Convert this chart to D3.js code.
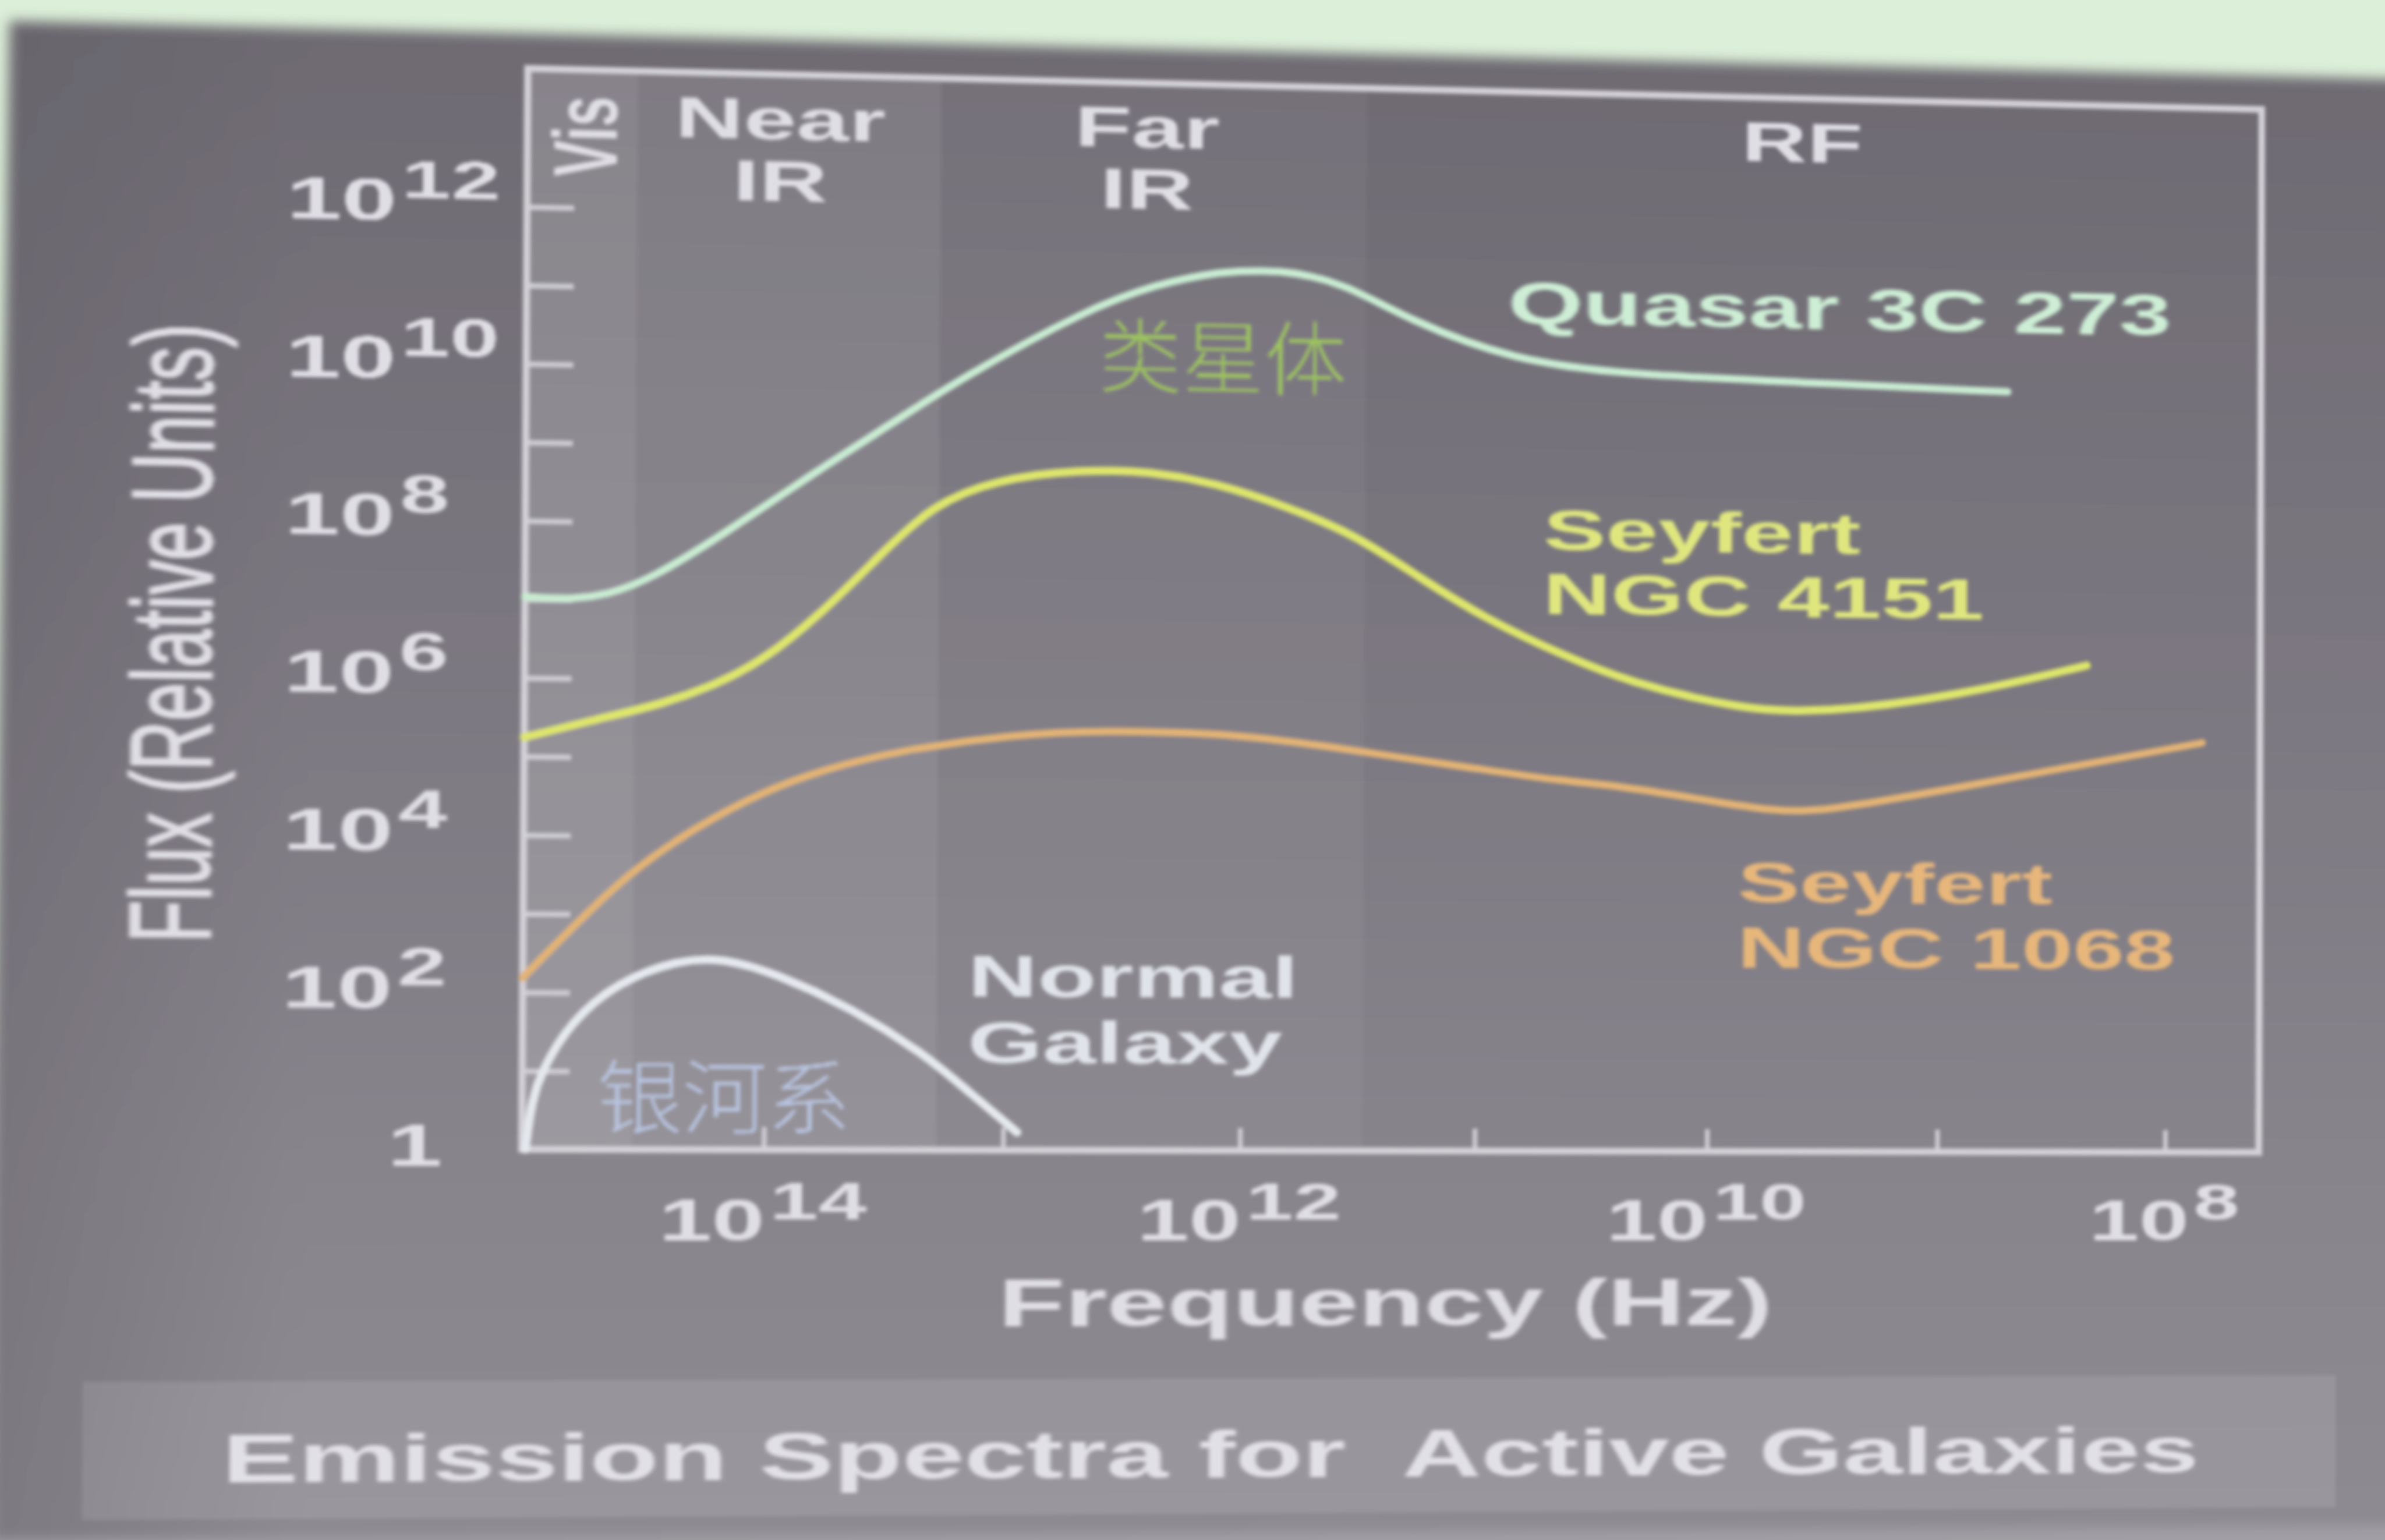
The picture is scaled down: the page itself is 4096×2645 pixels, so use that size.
<!DOCTYPE html>
<html>
<head>
<meta charset="utf-8">
<title>Emission Spectra for Active Galaxies</title>
<script src="https://cdn.jsdelivr.net/npm/d3@7"></script>
<style>
  html, body { margin: 0; padding: 0; width: 4096px; height: 2645px; overflow: hidden; background: #dcefd9; }
  #slide { position: absolute; left: 0; top: 0; width: 4096px; height: 2645px; transform-origin: 0 0; overflow: visible; }
  #slide svg { overflow: visible; display: block; }
</style>
</head>
<body>
<div id="slide"></div>
<script>
// ---------- data ----------
// spectral bands, edges in Hz (high to low frequency)
const bandLabels = [["Vis"], ["Near", "IR"], ["Far", "IR"], ["RF"]];
const bandEdgesHz = [1e15, 3.5e14, 1.9e13, 3e11, 3.84e7];

// axis ticks (powers of ten)
const yTickExps = [0, 2, 4, 6, 8, 10, 12];
const yMinorExps = [1, 2, 3, 4, 5, 6, 7, 8, 9, 10, 11, 12];
const xTickExps = [14, 12, 10, 8];
const xMinorExps = [14, 13, 12, 11, 10, 9, 8];

// spectra: log10(frequency / Hz) and log10(flux, relative units)
const quasarLogNu   = [15.00, 14.80, 14.66, 14.48, 14.16, 13.82, 13.48, 13.20, 12.66, 12.37, 12.11, 11.84, 11.57, 11.30, 10.84, 10.36, 9.64, 8.70];
const quasarLogFlux = [7.03, 7.00, 7.07, 7.27, 7.90, 8.63, 9.31, 9.89, 10.83, 11.16, 11.35, 11.39, 11.23, 10.77, 10.26, 10.11, 10.05, 9.97];

const ngc4151LogNu   = [15.00, 14.70, 14.43, 14.22, 14.02, 13.77, 13.53, 13.31, 13.05, 12.68, 12.39, 12.11, 11.82, 11.53, 11.24, 10.96, 10.61, 10.35, 9.87, 9.51, 8.90, 8.35];
const ngc4151LogFlux = [5.24, 5.48, 5.68, 5.92, 6.23, 6.86, 7.61, 8.27, 8.61, 8.76, 8.75, 8.61, 8.33, 7.99, 7.42, 6.90, 6.42, 6.11, 5.77, 5.72, 5.98, 6.39];

const ngc1068LogNu   = [15.00, 14.82, 14.56, 14.29, 14.01, 13.74, 13.47, 12.97, 12.52, 12.22, 11.94, 11.64, 11.34, 11.02, 10.62, 10.35, 9.75, 9.51, 8.90, 7.84];
const ngc1068LogFlux = [2.18, 2.75, 3.54, 4.11, 4.58, 4.88, 5.10, 5.35, 5.40, 5.39, 5.34, 5.23, 5.10, 4.97, 4.80, 4.75, 4.44, 4.43, 4.78, 5.39];

const galaxyLogNu   = [14.985, 14.96, 14.92, 14.80, 14.61, 14.36, 14.17, 13.95, 13.63, 13.33, 13.14, 12.94];
const galaxyLogFlux = [0.00, 0.62, 1.00, 1.63, 2.13, 2.42, 2.45, 2.25, 1.81, 1.23, 0.74, 0.23];

// ---------- layout ----------
const VW = 1568, VH = 1013;            // layout units of the slide
const PX = 4096 / VW, PY = 2645 / VH;  // layout unit -> pixel
const FONT = "'Liberation Sans', Arial, Helvetica, sans-serif";
const CJK = "'Noto Sans CJK SC', 'Noto Sans CJK TC', sans-serif";
const SX = 1.6;                        // slide text is set wide
const plot = { left: 345, right: 1487, top: 45, bottom: 757 };

const x = d3.scaleLog().domain([1e15, 3.84e7]).range([plot.left, plot.right]);
const y = d3.scaleLog().domain([1, Math.pow(10, 13.76)]).range([plot.bottom, plot.top]);

const svg = d3.select("#slide").append("svg")
  .attr("width", 4096).attr("height", 2645)
  .attr("viewBox", `0 0 ${VW} ${VH}`)
  .attr("preserveAspectRatio", "none");

const defs = svg.append("defs");
const soft = defs.append("filter").attr("id", "soft")
  .attr("x", "-5%").attr("y", "-5%").attr("width", "110%").attr("height", "110%");
soft.append("feGaussianBlur").attr("stdDeviation", 1.1);
const edge = defs.append("filter").attr("id", "edge")
  .attr("x", "-5%").attr("y", "-5%").attr("width", "110%").attr("height", "110%");
edge.append("feGaussianBlur").attr("stdDeviation", 4);

const grad = defs.append("linearGradient").attr("id", "slideFill")
  .attr("gradientUnits", "userSpaceOnUse").attr("x1", 0).attr("y1", 22).attr("x2", 0).attr("y2", 1013);
[[0, "#6e6a72"], [0.35, "#79757e"], [0.75, "#88848c"], [1, "#8e8a92"]]
  .forEach(([o, c]) => grad.append("stop").attr("offset", o).attr("stop-color", c));

const side = defs.append("linearGradient").attr("id", "sideShade")
  .attr("gradientUnits", "userSpaceOnUse").attr("x1", 13).attr("y1", 0).attr("x2", 200).attr("y2", 0);
side.append("stop").attr("offset", 0).attr("stop-color", "#5e5a62").attr("stop-opacity", 0.35);
side.append("stop").attr("offset", 1).attr("stop-color", "#5e5a62").attr("stop-opacity", 0);

// slide surface
const back = svg.append("g").attr("filter", "url(#edge)");
const slideOutline = [[19, 22], [1720, 22], [1720, 1120], [12, 1120], [12, 820]];
back.append("polygon").attr("points", slideOutline.join(" ")).attr("fill", "url(#slideFill)");
back.append("polygon").attr("points", slideOutline.join(" ")).attr("fill", "url(#sideShade)");
back.append("rect").attr("x", 12).attr("y", 1012).attr("width", 1708).attr("height", 100).attr("fill", "#a19ea5");

const g = svg.append("g").attr("filter", "url(#soft)");

// title bar
g.append("rect").attr("x", 70).attr("y", 909).attr("width", 1470).attr("height", 90)
  .attr("fill", "#ffffff").attr("opacity", 0.1);

// band shading
const bandOpacity = [0.17, 0.11, 0.045, 0];
g.selectAll("rect.band").data(bandLabels).join("rect").attr("class", "band")
  .attr("x", (d, i) => x(bandEdgesHz[i]))
  .attr("width", (d, i) => x(bandEdgesHz[i + 1]) - x(bandEdgesHz[i]))
  .attr("y", plot.top).attr("height", plot.bottom - plot.top)
  .attr("fill", "#ffffff").attr("opacity", (d, i) => bandOpacity[i]);

// ticks
const tickColor = "#cfcdd4";
const yAxis = d3.axisLeft(y).tickValues(yMinorExps.map(e => Math.pow(10, e))).tickSize(-30).tickFormat("");
g.append("g").attr("transform", `translate(${plot.left},0)`).call(yAxis)
  .call(s => s.select(".domain").remove())
  .call(s => s.selectAll("text").remove())
  .call(s => s.selectAll("line").attr("stroke", tickColor).attr("stroke-width", 3.5));
const xAxis = d3.axisBottom(x).tickValues(xMinorExps.map(e => Math.pow(10, e))).tickSize(-15).tickFormat("");
g.append("g").attr("transform", `translate(0,${plot.bottom})`).call(xAxis)
  .call(s => s.select(".domain").remove())
  .call(s => s.selectAll("text").remove())
  .call(s => s.selectAll("line").attr("stroke", tickColor).attr("stroke-width", 3));

// frame
g.append("rect").attr("x", plot.left).attr("y", plot.top)
  .attr("width", plot.right - plot.left).attr("height", plot.bottom - plot.top)
  .attr("fill", "none").attr("stroke", "#d3d1d7").attr("stroke-width", 4.5);

// spectra
const line = d3.line()
  .x(d => x(Math.pow(10, d[0])))
  .y(d => y(Math.pow(10, d[1])))
  .curve(d3.curveBasis);
const series = [
  { nu: galaxyLogNu,  flux: galaxyLogFlux,  color: "#e4e8ee", width: 5.5 },
  { nu: ngc1068LogNu, flux: ngc1068LogFlux, color: "#e2b274", width: 5 },
  { nu: ngc4151LogNu, flux: ngc4151LogFlux, color: "#dde56c", width: 5.5 },
  { nu: quasarLogNu,  flux: quasarLogFlux,  color: "#c8ebd1", width: 5 }
];
g.selectAll("path.spectrum").data(series).join("path").attr("class", "spectrum")
  .attr("d", s => line(d3.zip(s.nu, s.flux)))
  .attr("fill", "none").attr("stroke", s => s.color).attr("stroke-width", s => s.width)
  .attr("stroke-linecap", "round").attr("stroke-linejoin", "round");

// ---------- text ----------
function txt(parent, str, px, py, o) {
  const sx = o.sx === undefined ? SX : o.sx;
  const t = parent.append("text")
    .attr("transform", `translate(${px},${py}) scale(${sx},1)` + (o.rot ? ` rotate(${o.rot})` : ""))
    .attr("text-anchor", o.anchor || "start")
    .attr("font-family", o.family || FONT)
    .attr("font-weight", o.weight || "bold")
    .attr("font-size", o.size)
    .attr("fill", o.fill);
  if (o.dy) t.attr("dy", o.dy);
  if (o.baseline) t.attr("dominant-baseline", o.baseline);
  if (str !== null) t.text(str);
  return t;
}
const white = "#e0dee5";

// band names, centred in their bands
const bandNudge = [-2, -6, -5, -11];
bandLabels.forEach((lines, i) => {
  const cx = (x(bandEdgesHz[i]) + x(bandEdgesHz[i + 1])) / 2 + bandNudge[i];
  if (i === 0) {
    txt(g, lines[0], cx + 3, 89, { anchor: "middle", size: 36, fill: white, rot: -90, dy: "0.36em" });
  } else {
    lines.forEach((s, k) => txt(g, s, cx, 88 + k * 41, { anchor: "middle", size: 38, fill: white }));
  }
});

// y tick labels
yTickExps.forEach(e => {
  const yy = y(Math.pow(10, e));
  if (e === 0) {
    txt(g, "1", 260, yy + 11, { size: 39, fill: white });
  } else {
    const t = txt(g, null, 193, yy + 11, { size: 39, fill: white });
    t.append("tspan").text("10");
    t.append("tspan").attr("dx", 2).attr("dy", -15).attr("font-size", 35).text(e);
  }
});

// x tick labels
xTickExps.forEach(e => {
  const t = txt(g, null, x(Math.pow(10, e)), 817, { anchor: "middle", size: 38, fill: white });
  t.append("tspan").text("10");
  t.append("tspan").attr("dx", 2).attr("dy", -14).attr("font-size", 35).text(e);
});

// axis titles
txt(g, "Flux (Relative Units)", 122, 420, { anchor: "middle", size: 45, weight: "normal", fill: white, rot: -90, dy: "0.36em" })
  .attr("stroke", white).attr("stroke-width", 0.8);
txt(g, "Frequency (Hz)", 905, 874, { anchor: "middle", size: 44, fill: white });

// series labels
txt(g, "Quasar 3C 273", 981, 201, { size: 40, fill: "#cdeed5" });
txt(g, "类星体", 794, 224, { anchor: "middle", size: 54, sx: 1, family: CJK, weight: 300, fill: "#9cc25e", baseline: "central" });
txt(g, "Seyfert", 1005, 353, { size: 39, fill: "#dfe67e" });
txt(g, "NGC 4151", 1005, 396, { size: 39, fill: "#dfe67e" });
txt(g, "Seyfert", 1135, 589, { size: 39, fill: "#e6b67a" });
txt(g, "NGC 1068", 1135, 633, { size: 39, fill: "#e6b67a" });
txt(g, "Normal", 630, 655, { size: 39, fill: "#e0e3ea" });
txt(g, "Galaxy", 630, 699, { size: 39, fill: "#e0e3ea" });
txt(g, "银河系", 474, 719, { anchor: "middle", size: 54, sx: 1, family: CJK, weight: 300, fill: "#b6c2de", baseline: "central" });

// slide title
txt(g, "Emission Spectra for  Active Galaxies", 802, 975, { anchor: "middle", size: 45, fill: "#e2e0e7" })
  .attr("xml:space", "preserve").style("white-space", "pre");

// ---------- keystone of the projected slide ----------
function homography(src, dst) {
  const A = [], b = [];
  for (let i = 0; i < 4; i++) {
    const [sx, sy] = src[i], [u, v] = dst[i];
    A.push([sx, sy, 1, 0, 0, 0, -u * sx, -u * sy]); b.push(u);
    A.push([0, 0, 0, sx, sy, 1, -v * sx, -v * sy]); b.push(v);
  }
  const n = 8;
  for (let c = 0; c < n; c++) {
    let p = c;
    for (let r = c + 1; r < n; r++) if (Math.abs(A[r][c]) > Math.abs(A[p][c])) p = r;
    [A[c], A[p]] = [A[p], A[c]]; [b[c], b[p]] = [b[p], b[c]];
    for (let r = 0; r < n; r++) {
      if (r === c) continue;
      const f = A[r][c] / A[c][c];
      for (let k = c; k < n; k++) A[r][k] -= f * A[c][k];
      b[r] -= f * b[c];
    }
  }
  return b.map((v, i) => v / A[i][i]);
}
const toPx = ([a, c]) => [a * PX, c * PY];
const flatCorners = [[345, 45], [1487, 45], [1487, 757], [345, 757]].map(toPx);
const seenCorners = [[347, 45], [1487, 72], [1485, 758], [343, 756]].map(toPx);
const h = homography(flatCorners, seenCorners);
d3.select("#slide").style("transform",
  `matrix3d(${h[0]},${h[3]},0,${h[6]},${h[1]},${h[4]},0,${h[7]},0,0,1,0,${h[2]},${h[5]},0,1)`);
</script>
</body>
</html>
